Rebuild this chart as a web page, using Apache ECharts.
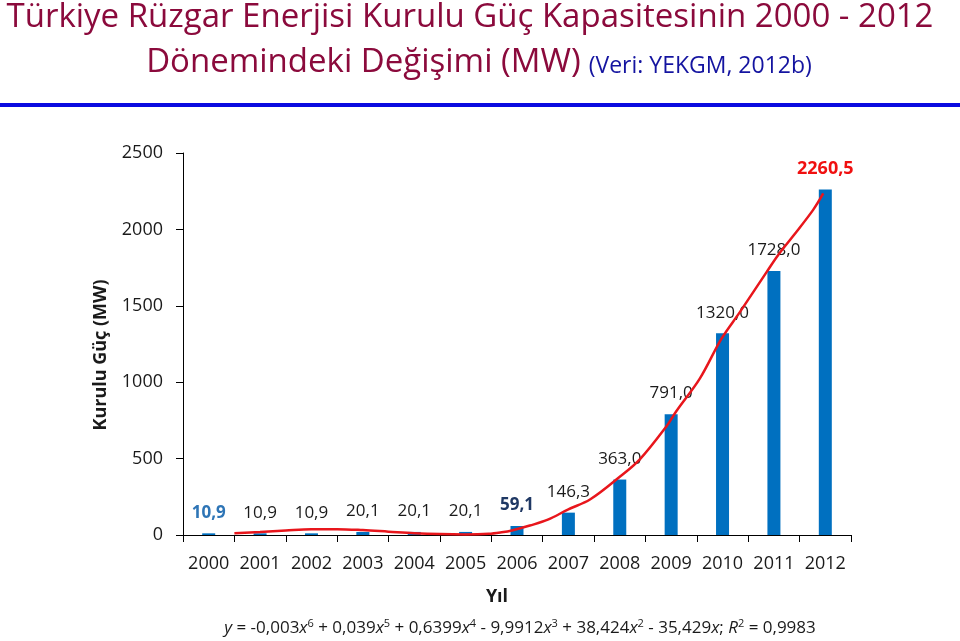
<!DOCTYPE html>
<html>
<head>
<meta charset="utf-8">
<script src="https://cdn.jsdelivr.net/npm/echarts@6/dist/echarts.min.js"></script>
<style>
html,body{margin:0;padding:0;background:#fff;}
#chart{width:960px;height:641px;}
</style>
</head>
<body>
<div id="chart"></div>
<script>
// ---- data ----
var years = ['2000','2001','2002','2003','2004','2005','2006','2007','2008','2009','2010','2011','2012'];
var capacity = [10.9, 10.9, 10.9, 20.1, 20.1, 20.1, 59.1, 146.3, 363.0, 791.0, 1320.0, 1728.0, 2260.5];
var yTicks = [0, 500, 1000, 1500, 2000, 2500];
// trend line (position along the category band, value in MW)
var trendX = [1.0, 1.5, 2.0, 2.5, 3.0, 3.5, 4.0, 4.5, 5.0, 5.5, 5.95, 6.2, 6.4, 6.75, 7.1, 7.5, 7.92, 8.5, 8.89, 9.41, 9.6, 10.06, 10.48, 10.84, 11.36, 11.58, 11.87, 12.26, 12.46];
var trendY = [12, 20, 30, 38, 38, 32, 22, 12, 6, 4, 8, 18, 30, 62, 100, 168, 232, 381, 495, 712, 810, 1025, 1285, 1460, 1722, 1831, 1955, 2126, 2235];

var titleLine1 = 'Türkiye Rüzgar Enerjisi Kurulu Güç Kapasitesinin 2000 - 2012';
var titleLine2 = 'Dönemindeki Değişimi (MW)';
var titleSource = '(Veri: YEKGM, 2012b)';
var yName = 'Kurulu Güç (MW)';
var xName = 'Yıl';

var FONT = '"Open Sans", "Noto Sans", sans-serif';

function fmt(v){ return v.toFixed(1).replace('.', ','); }

var specialLabel = {
  0: {color:'#2E75B6', fontWeight:'bold'},
  6: {color:'#1F3864', fontWeight:'bold'},
  12: {color:'#F01010', fontWeight:'bold', fontSize: 18}
};

var barData = capacity.map(function(v, i){
  var item = {value: v};
  if (specialLabel[i]) item.label = specialLabel[i];
  return item;
});

var trendData = trendX.map(function(x, i){ return [x, trendY[i]]; });

var chart = echarts.init(document.getElementById('chart'), null, {renderer:'canvas'});

chart.setOption({
  animation: false,
  backgroundColor: '#ffffff',
  grid: {left: 183, right: 109, top: 153, bottom: 106, containLabel: false},
  xAxis: [{
    type: 'category',
    data: years,
    boundaryGap: true,
    axisLine: {lineStyle: {color: '#000', width: 1}},
    axisTick: {show: true, length: 7, lineStyle: {color: '#000'}},
    axisLabel: {color: '#1a1a1a', fontSize: 18, fontFamily: FONT, margin: 20, interval: 0},
    splitLine: {show: false}
  }, {
    type: 'value',
    min: 0, max: 13,
    show: false
  }],
  yAxis: [{
    type: 'value',
    min: yTicks[0], max: yTicks[yTicks.length-1], interval: 500,
    axisLine: {show: true, lineStyle: {color: '#000', width: 1}},
    axisTick: {show: true, length: 7, lineStyle: {color: '#000'}},
    axisLabel: {color: '#1a1a1a', fontSize: 18, fontFamily: FONT, margin: 20, formatter: function(v){ return String(v); }},
    splitLine: {show: false}
  }],
  series: [{
    type: 'bar',
    data: barData,
    barWidth: 13,
    itemStyle: {color: '#0070C0'},
    label: {
      show: true,
      position: 'top',
      distance: 12,
      fontSize: 17,
      fontFamily: FONT,
      color: '#1a1a1a',
      formatter: function(p){ return fmt(p.value); }
    },
    z: 2
  }, {
    type: 'line',
    xAxisIndex: 1,
    yAxisIndex: 0,
    data: trendData,
    smooth: 0.35,
    symbol: 'none',
    lineStyle: {color: '#E8161C', width: 2.5},
    z: 3
  }],
  graphic: [
    {type: 'text', x: 470, y: 18, style: {text: titleLine1, font: '33px ' + FONT, fill: '#8B0A3C', align: 'center', verticalAlign: 'middle'}},
    {type: 'text', x: 479, y: 63, style: {
      text: '{a|' + titleLine2 + '}{b|' + titleSource + '}',
      align: 'center', verticalAlign: 'middle',
      rich: {
        a: {fontSize: 33, fontFamily: FONT, fill: '#8B0A3C', color: '#8B0A3C', padding: [0,8,0,0]},
        b: {fontSize: 23, fontFamily: FONT, fill: '#1414A0', color: '#1414A0', padding: [6,0,0,0]}
      }
    }},
    {type: 'rect', shape: {x: 0, y: 103, width: 960, height: 4}, style: {fill: '#0A0AE0'}},
    {type: 'text', x: 101, y: 355, rotation: Math.PI/2, style: {text: yName, font: 'bold 18px ' + FONT, fill: '#1a1a1a', align: 'center', verticalAlign: 'middle'}},
    {type: 'text', x: 497, y: 597, style: {text: xName, font: 'bold 18px ' + FONT, fill: '#1a1a1a', align: 'center', verticalAlign: 'middle'}},
    {type: 'text', x: 520, y: 628, style: {
      text: '{i|y} = -0,003{i|x}{s|6} + 0,039{i|x}{s|5} + 0,6399{i|x}{s|4} - 9,9912{i|x}{s|3} + 38,424{i|x}{s|2} - 35,429{i|x}; {i|R}{s|2} = 0,9983',
      align: 'center', verticalAlign: 'middle',
      fontSize: 17, fontFamily: FONT, fill: '#1a1a1a',
      rich: {
        i: {fontStyle: 'italic', fontSize: 17, fontFamily: FONT, fill: '#1a1a1a'},
        s: {fontSize: 11, fontFamily: FONT, fill: '#1a1a1a', verticalAlign: 'top', padding: [0,0,8,0]}
      }
    }}
  ]
});
</script>
</body>
</html>
